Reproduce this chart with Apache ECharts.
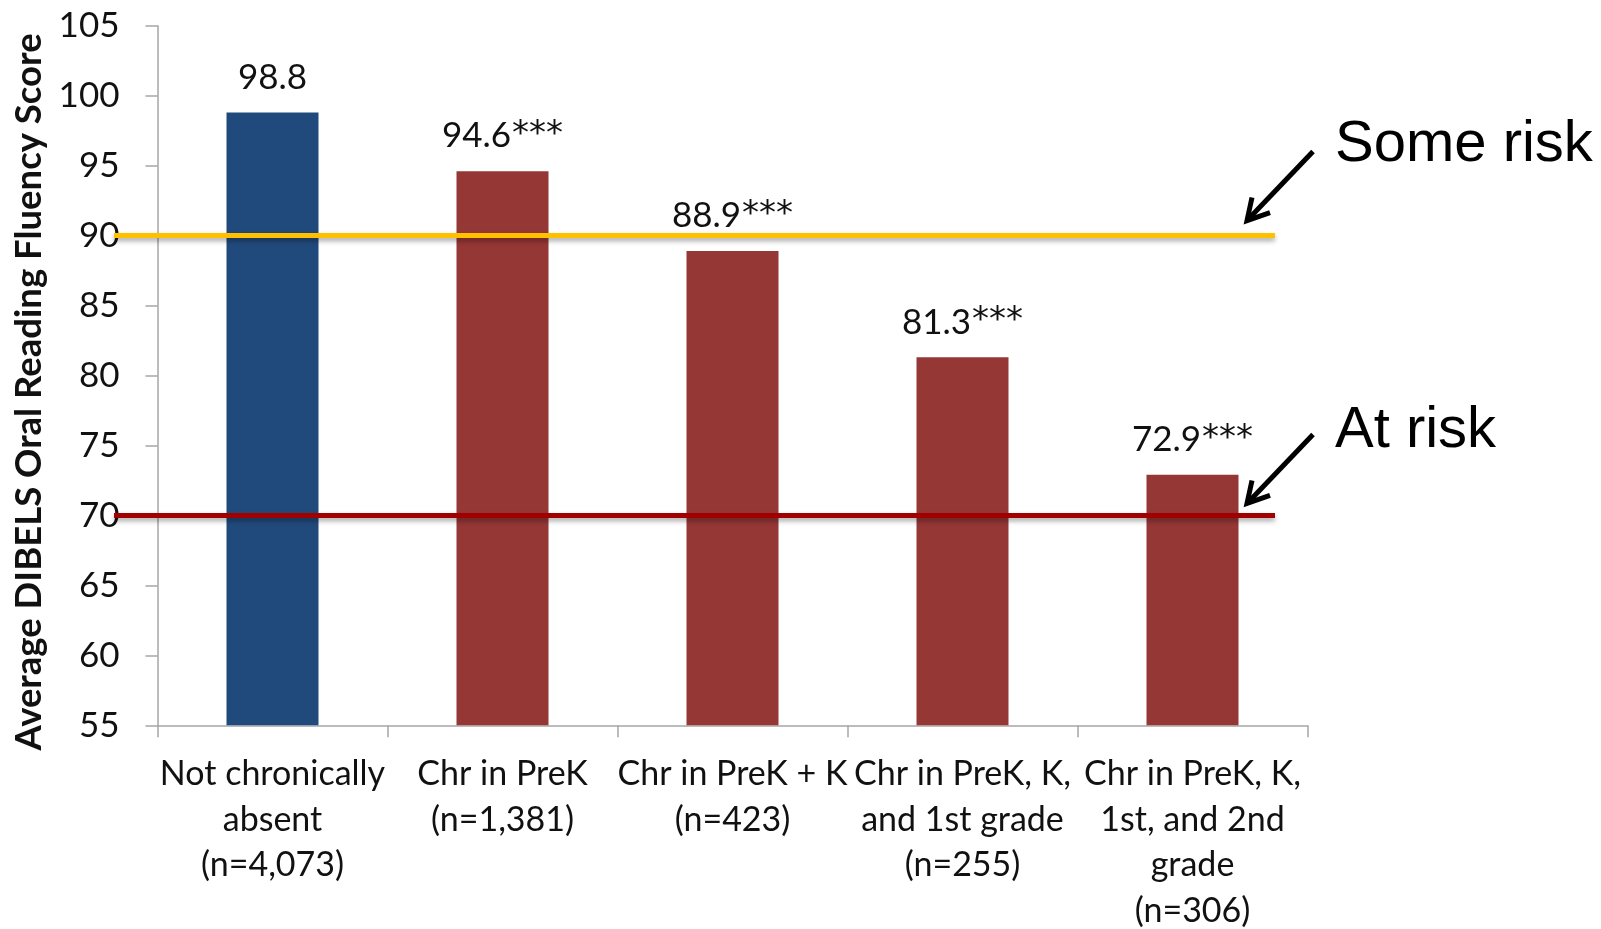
<!DOCTYPE html>
<html>
<head>
<meta charset="utf-8">
<title>Average DIBELS Oral Reading Fluency Score by chronic absence</title>
<script src="https://cdn.jsdelivr.net/npm/echarts@6/dist/echarts.min.js"></script>
<style>
  html, body { margin: 0; padding: 0; background: #fff; }
  #chart { width: 1601px; height: 929px; }
</style>
</head>
<body>
<div id="chart"></div>
<script>
// Groups of students by years of chronic absence
const categories = [
  'Not chronically\nabsent\n(n=4,073)',
  'Chr in PreK\n(n=1,381)',
  'Chr in PreK + K\n(n=423)',
  'Chr in PreK, K,\nand 1st grade\n(n=255)',
  'Chr in PreK, K,\n1st, and 2nd\ngrade\n(n=306)'
];
// Average oral reading fluency score per group
const scores = [98.8, 94.6, 88.9, 81.3, 72.9];
// Significance markers printed after each score
const significance = ['', '***', '***', '***', '***'];
// Benchmark cut-offs
const someRiskCut = 90;
const atRiskCut = 70;
// Value axis range
const yMin = 55, yMax = 105, yStep = 5;

const BLUE = '#214A7C';
const RED = '#953735';
const BODY_FONT = 'Lato, "Open Sans", sans-serif';

const chart = echarts.init(document.getElementById('chart'), null, { renderer: 'canvas' });

const barData = scores.map((v, i) => ({
  value: v,
  itemStyle: { color: i === 0 ? BLUE : RED }
}));

const thresholdLine = (value, color) => [
  { yAxis: value, x: 114 },
  { yAxis: value, x: 1275, lineStyle: { color: color } }
];

chart.setOption({
  animation: false,
  backgroundColor: '#fff',
  grid: {
    left: 157.5, right: 293.5, top: 25.7, bottom: 203.7,
    containLabel: false,
    outerBoundsMode: 'none'
  },
  xAxis: {
    type: 'category',
    data: categories,
    axisLine: { lineStyle: { color: '#A6A6A6', width: 1.5 } },
    axisTick: { show: true, length: 12, lineStyle: { color: '#A6A6A6', width: 1.5 } },
    axisLabel: {
      interval: 0,
      hideOverlap: false,
      margin: 26,
      color: '#111',
      fontFamily: BODY_FONT,
      fontSize: 34,
      lineHeight: 45.5
    }
  },
  yAxis: {
    type: 'value',
    min: yMin,
    max: yMax,
    interval: yStep,
    splitLine: { show: false },
    axisLine: { show: true, lineStyle: { color: '#A6A6A6', width: 1.5 } },
    axisTick: { show: true, length: 12, lineStyle: { color: '#A6A6A6', width: 1.5 } },
    axisLabel: {
      margin: 38,
      color: '#111',
      fontFamily: BODY_FONT,
      fontSize: 35
    }
  },
  series: [{
    type: 'bar',
    data: barData,
    barWidth: '40%',
    label: {
      show: true,
      position: 'top',
      distance: 17,
      color: '#111',
      fontFamily: BODY_FONT,
      fontSize: 35,
      formatter: p => p.value.toFixed(1) + (significance[p.dataIndex] ? '{s|' + significance[p.dataIndex] + '}' : ''),
      rich: {
        s: {
          fontFamily: '"DejaVu Sans", sans-serif',
          fontSize: 34,
          color: '#111',
          padding: [0, 0, 2, 1]
        }
      }
    },
    markLine: {
      silent: true,
      symbol: ['none', 'none'],
      label: { show: false },
      lineStyle: {
        type: 'solid',
        width: 5,
        shadowColor: 'rgba(0,0,0,0.35)',
        shadowBlur: 5,
        shadowOffsetY: 3
      },
      data: [
        thresholdLine(someRiskCut, '#FFC000'),
        thresholdLine(atRiskCut, '#A00000')
      ]
    }
  }]
});

// Annotations: rotated axis title, risk captions and arrows
function arrowAt(tipX, tipY) {
  const st = { stroke: '#000', lineWidth: 5, lineCap: 'butt', lineJoin: 'miter', fill: null };
  return [
    { type: 'polyline', shape: { points: [[tipX + 66, tipY - 69], [tipX + 1, tipY - 1]] }, style: st },
    { type: 'polyline', shape: { points: [[tipX + 23, tipY - 8], [tipX, tipY], [tipX + 5, tipY - 23]] }, style: st }
  ];
}

const ySome = chart.convertToPixel({ yAxisIndex: 0 }, someRiskCut);
const yAt = chart.convertToPixel({ yAxisIndex: 0 }, atRiskCut);

chart.setOption({
  graphic: [
    {
      type: 'text',
      x: 29, y: 392,
      rotation: Math.PI / 2,
      style: {
        text: 'Average DIBELS Oral Reading Fluency Score',
        fill: '#111',
        font: 'bold 36.5px ' + BODY_FONT,
        align: 'center',
        verticalAlign: 'middle'
      }
    },
    {
      type: 'text',
      x: 1335, y: 145,
      style: {
        text: 'Some risk',
        fill: '#000',
        font: '58px "Liberation Sans", Arial, sans-serif',
        align: 'left',
        verticalAlign: 'middle'
      }
    },
    {
      type: 'text',
      x: 1335, y: 431,
      style: {
        text: 'At risk',
        fill: '#000',
        font: '58px "Liberation Sans", Arial, sans-serif',
        align: 'left',
        verticalAlign: 'middle'
      }
    },
    ...arrowAt(1247, ySome - 15),
    ...arrowAt(1247, yAt - 12)
  ]
});
</script>
</body>
</html>
